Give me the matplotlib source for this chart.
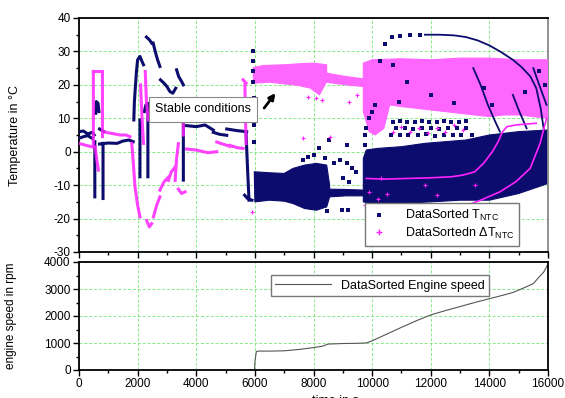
import numpy as np
import matplotlib
matplotlib.use("Agg")
import matplotlib.pyplot as plt
from matplotlib.ticker import MultipleLocator

plt.rcParams['font.family'] = ['Liberation Sans', 'DejaVu Sans']
plt.rcParams['axes.unicode_minus'] = False

nan = np.nan
NAVY = '#0c0c6e'
MAG = '#ff22ff'

# ---- T_NTC (navy) : traces, nan = gap ----
navy_tr_t = [0, 150, 300, 450, 520, nan,
             0, 150, 300, 450, nan,
             540, 540, nan,
             570, 590, 650, 680, nan,
             700, 850, nan,
             820, 820, nan,
             700, 1000, 1300, 1500, 1700, 1850, nan,
             1870, 1890, 1920, 1960, 2000, 2080, 2150, 2200, nan,
             2080, 2080, nan,
             2230, 2280, 2350, 2350, nan,
             2300, 2400, 2480, nan,
             2530, 2600, 2680, 2760, nan,
             2780, 2900, 3000, 3100, 3200, 3300, nan,
             3330, 3400, 3500, 3560, nan,
             3560, 3560, nan,
             3670, 4000, 4300, 4580, nan,
             4580, 4800, 5040, nan,
             5040, 5400, 5720, nan,
             5700, 5750, 5800, nan,
             5650, 5750, 5900]
navy_tr_T = [6, 6.2, 5.3, 5.8, 5, nan,
             4, 4.5, 4.8, 4, nan,
             3, -13.5, nan,
             11.5, 15, 14.5, 12, nan,
             6.8, 6, nan,
             2.5, -14, nan,
             2.3, 2.6, 2.5, 3.2, 3.5, 3, nan,
             9.5, 15, 19, 24, 27.5, 28.5, 27, 26, nan,
             9.5, -7.5, nan,
             12, 14, 14.5, -7.5, nan,
             34.3, 33.5, 32.5, nan,
             32.5, 30, 27.5, 25.5, nan,
             21.5, 20.5, 19.5, 18, 17.5, 19, nan,
             24.5, 22.5, 21, 20, nan,
             13, -8.5, nan,
             7.8, 7.5, 8, 6.5, nan,
             5.8, 5.2, 4.9, nan,
             6.8, 6.3, 6, nan,
             5.4, -5, -14.5, nan,
             -13, -14, -14.5]

# arc and thin streaks at high speed
navy_thin_t = [11800, 12300, 12800, 13200, 13600, 14000, 14400, 14800, 15100, 15400, 15600, 15750, 15850, 15920, nan,
               13450, 13700, 13950, 14200, 14360, nan,
               14800, 15000, 15270, nan,
               15500, 15700, 15950]
navy_thin_T = [35, 35, 34.8, 34.3, 33.3, 31.8, 29.8, 27.5, 25.3, 22.5, 19, 13, 7, 2, nan,
               25, 20, 14, 9, 6, nan,
               17, 12.5, 7, nan,
               25, 20, 14]

navy_pts_t = [5925, 5935, 5945, 5950, 5955, 5960, 5970,
              7650, 7800, 8000, 8200, 8540, 8400, 8700, 8900, 9130, 9150, 9300, 9450, 9000, 9200,
              8960, 9170, 8450, 9760, 9770, 9800, 9900, 10000, 10100,
              10270, 10440, 10670, 10950, 11290, 11630,
              10700, 10960, 11190, 11460, 11700, 11940, 12210, 12450, 12690, 12960, 13200,
              10800, 11110, 11390, 11700, 12010, 12290, 12600, 12910, 13190,
              10650, 10960, 11240, 11560, 11850, 12160, 12440, 12760, 13040, 13400,
              10700, 11200, 12000, 10900, 12800, 13800, 14100, 15200, 15700, 15900]
navy_pts_T = [30, 27, 24, 21, 16, 8, 3,
              -2.5, -1.5, -1, 1, 3.5, -2, -3.5, -2.5, 2, -3.5, -5, -6, -8, -9,
              -17.5, -17.3, -17.8, 5, 2, 7, 10, 12, 14,
              27, 32.3, 34.3, 34.5, 35, 35,
              9, 9.2, 8.8, 9, 9.1, 8.9, 9, 9.2, 8.8, 9, 9.1,
              7, 7.2, 6.9, 7, 7.1, 6.8, 7, 7.2, 7,
              5, 5.1, 4.9, 5, 5.2, 4.8, 5, 5.1, 4.9, 5,
              26, 21, 17, 15, 14.5, 19, 14, 18, 24, 20]

# dense navy clouds (outlines)
navy_c1_t = [5980, 6500, 7000, 7300, 7700, 8100, 8450, 8550, 8550, 8450, 8100, 7700, 7300, 7000, 6500, 6000]
navy_c1_T = [-6, -6.3, -6.5, -5, -4, -3.5, -4, -10, -13.5, -16.5, -17.5, -17, -15.5, -14.8, -14.5, -15]
navy_c2_t = [8550, 9100, 9750, 9750, 9100, 8550]
navy_c2_T = [-11.2, -11.3, -11.5, -13.2, -13.2, -13.5]
navy_c3_t = [9700, 9800, 10200, 11000, 11800, 12500, 13200, 14000, 15000, 16000,
             16000, 15500, 15000, 14500, 14000, 13000, 12000, 11000, 10200, 9700]
navy_c3_T = [-2, 0.5, 1, 1.5, 2.5, 3, 3.5, 5, 6, 6.5,
             -9.5, -11, -12.5, -13.5, -14.5, -14.5, -15, -15.5, -16, -15]

# ---- delta T_NTC (magenta) ----
mag_tr_t = [0, 200, 430, nan,
            490, 490, nan,
            490, 800, nan,
            800, 800, nan,
            550, 600, 660, nan,
            830, 1100, 1400, 1600, 1740, nan,
            1800, 1850, 1910, 2000, 2080, nan,
            2100, 2150, 2200, nan,
            2260, 2300, 2360, nan,
            2310, 2400, 2480, nan,
            2540, 2650, 2760, nan,
            2760, 2900, 3050, nan,
            3050, 3150, 3280, nan,
            3280, 3330, 3390, nan,
            3390, 3500, 3620, nan,
            3560, 3560, nan,
            3670, 4000, 4400, 4700, nan,
            4700, 4900, 5150, nan,
            5150, 5400, 5600, nan,
            5600, 5700, nan,
            5660, 5680, 5700]
mag_tr_T = [2.5, 2, 1.5, nan,
            24, 1.5, nan,
            24, 24, nan,
            24, 4.5, nan,
            1.5, -2, -5.5, nan,
            6, 5.5, 5, 5, 4.5, nan,
            2.5, -3, -10.5, -16, -19.5, nan,
            20, 10, 2.5, nan,
            24, 15, 9.5, nan,
            -20.6, -22.5, -21.5, nan,
            -19.5, -16, -13.5, nan,
            -11.5, -9, -7.6, nan,
            -8.6, -6, -4.6, nan,
            -8.6, -2, 2.4, nan,
            -11.2, -12.5, -12, nan,
            10, 5, nan,
            0.8, 0.5, -0.3, 0, nan,
            2.9, 2.3, 1.6, nan,
            1.9, 1.2, 1, nan,
            21.5, 20.5, nan,
            20, 10, 2.4]

mag_thin_t = [9800, 10400, 11200, 12000, 12700, 13100, 13500, 13800, 14100, 14300, 14450, 14600, 14900, 15300, 15600, nan,
              13100, 13700, 14360, 14900, 15390, 15730, 15950]
mag_thin_T = [-8, -8.2, -8, -7.8, -7.5, -7, -6, -3.5, 0, 3, 6, 7.5, 8, 8.3, 8.5, nan,
              -16.5, -14.5, -12, -9, -5, 2.5, 10]

mag_pts_t = [5900, 7650, 8560, 7800, 8100, 8300, 9200, 9500, 9760, 10300,
             10700, 11000, 11300, 11600, 11900, 12200, 12500, 12800, 13100,
             9900, 10200, 10500, 11800, 12200, 13500]
mag_pts_T = [-18, 4, 4.5, 16.5, 16, 15.5, 15, 17, -16, -8,
             6, 7.5, 5.8, 7, 5.5, 7.2, 6, 8, 6.5,
             -12, -14, -12.5, -10, -13, -10]

mag_c1_t = [5950, 5950, 6300, 7000, 7500, 8000, 8450, 8450, 8200, 7900, 7500, 7000, 6500]
mag_c1_T = [20.5, 25.2, 25.8, 26, 26.3, 26.5, 26, 21, 17, 19, 19.8, 20.3, 20.8]
mag_c2_t = [8450, 9100, 9700, 9700, 9100, 8450]
mag_c2_T = [23.5, 22.5, 21.8, 19.5, 20, 20.8]
mag_c3_t = [9700, 10000, 11000, 12000, 13000, 14000, 15000, 16000,
            16000, 15500, 15000, 14500, 14000, 13500, 13000, 12500, 12000, 11500, 11000, 10600, 10400, 10100, 9900, 9700]
mag_c3_T = [26.5, 27.5, 27.8, 27.5, 28, 28, 27.5, 27.5,
            10, 10.5, 11, 11, 10.5, 11, 11.5, 12, 12.5, 13, 13.5, 14, 7, 5, 6, 12]

# ---- engine speed ----
speed_t = [5990, 6000, 6050, 6100, 6500, 7000, 7500, 8000, 8300, 8500, 9000, 9500, 9800, 10000,
           10500, 11000, 11500, 12000, 12500, 13000, 13500, 14000, 14500, 14800, 15000, 15300,
           15500, 15700, 15850, 16000]
speed_rpm = [0, 300, 680, 700, 700, 710, 760, 830, 880, 960, 980, 990, 1000, 1080,
             1330, 1580, 1820, 2040, 2200, 2350, 2500, 2640, 2780, 2870, 2960, 3100,
             3200, 3450, 3620, 3920]

GRID = dict(color='#86ea86', linestyle=(0, (3, 2)), linewidth=0.7)

fig = plt.figure(figsize=(5.65, 3.98), dpi=100)
ax1 = fig.add_axes([79 / 565, 1 - 252 / 398, 469 / 565, 234 / 398])
ax2 = fig.add_axes([79 / 565, 1 - 370 / 398, 469 / 565, 108 / 398])

# temperature panel
for xs, ys in [(navy_c1_t, navy_c1_T), (navy_c2_t, navy_c2_T), (navy_c3_t, navy_c3_T)]:
    ax1.fill(xs, ys, color=NAVY, lw=0.8, zorder=2)
for xs, ys in [(mag_c1_t, mag_c1_T), (mag_c2_t, mag_c2_T), (mag_c3_t, mag_c3_T)]:
    ax1.fill(xs, ys, color='#ff66ff', lw=0.8, zorder=3)
ax1.plot(navy_tr_t, navy_tr_T, color=NAVY, lw=2.2, zorder=4)
ax1.plot(navy_thin_t, navy_thin_T, color=NAVY, lw=1.3, zorder=4)
ax1.plot(navy_pts_t, navy_pts_T, 's', color=NAVY, ms=2.2, mew=0, zorder=4)
ax1.plot(mag_tr_t, mag_tr_T, color=MAG, lw=2.2, alpha=0.85, zorder=5)
ax1.plot(mag_thin_t, mag_thin_T, color=MAG, lw=1.2, zorder=5)
ax1.plot(mag_pts_t, mag_pts_T, '+', color=MAG, ms=3, mew=0.8, zorder=5)

ax1.plot([], [], 's', color=NAVY, ms=2.5, mew=0, label='DataSorted T$_\\mathregular{NTC}$')
ax1.plot([], [], '+', color=MAG, ms=4, label='DataSortedn \u0394T$_\\mathregular{NTC}$')
leg = ax1.legend(loc='lower left', bbox_to_anchor=(0.596, 0.0), fontsize=9, frameon=True,
                 fancybox=False, edgecolor='#777777', framealpha=1, borderpad=0.4,
                 handletextpad=1.3, labelspacing=0.2, handlelength=1.5)
leg.set_zorder(10)

ax1.text(4230, 12.7, 'Stable conditions', ha='center', va='center', fontsize=9, zorder=8,
         bbox=dict(boxstyle='square,pad=0.5', fc='white', ec='#888888', lw=0.8))
ax1.annotate('', xy=(6760, 18.2), xytext=(6260, 12.4), zorder=8,
             arrowprops=dict(arrowstyle='-|>', color='black', lw=2, mutation_scale=9))

ax1.set_xlim(0, 16000)
ax1.set_ylim(-30, 40)
ax1.xaxis.set_major_locator(MultipleLocator(2000))
ax1.xaxis.set_minor_locator(MultipleLocator(1000))
ax1.yaxis.set_major_locator(MultipleLocator(10))
ax1.yaxis.set_minor_locator(MultipleLocator(5))
ax1.tick_params(axis='x', labelbottom=False)
ax1.set_ylabel('Temperature in \u00b0C', fontsize=9)
ax1.yaxis.set_label_coords(-0.124, 0.5)
ax1.grid(True, **GRID)
ax1.set_axisbelow(True)

# engine speed panel
ax2.plot(speed_t, speed_rpm, color='#555555', lw=0.8, label='DataSorted Engine speed')
ax2.legend(loc='upper left', bbox_to_anchor=(0.395, 0.935), fontsize=9, frameon=True,
           fancybox=False, edgecolor='#777777', framealpha=1, borderpad=0.35, handlelength=4.5)
ax2.set_xlim(0, 16000)
ax2.set_ylim(0, 4000)
ax2.xaxis.set_major_locator(MultipleLocator(2000))
ax2.xaxis.set_minor_locator(MultipleLocator(1000))
ax2.yaxis.set_major_locator(MultipleLocator(1000))
ax2.yaxis.set_minor_locator(MultipleLocator(500))
ax2.set_ylabel('engine speed in rpm', fontsize=8.5)
ax2.yaxis.set_label_coords(-0.132, 0.5)
ax2.grid(True, **GRID)
ax2.set_axisbelow(True)

for ax in (ax1, ax2):
    ax.tick_params(which='major', direction='out', length=4, width=1, labelsize=8.5, pad=2)
    ax.tick_params(which='minor', direction='out', length=2.5, width=1)
    ax.tick_params(top=False, right=False, which='both')
    for s in ax.spines.values():
        s.set_linewidth(1.3)
ax1.spines['right'].set_color('#888888')

fig.text(335 / 565, 0.008, 'time in s', ha='center', va='top', fontsize=9)

fig.savefig('out.png', dpi=100)
